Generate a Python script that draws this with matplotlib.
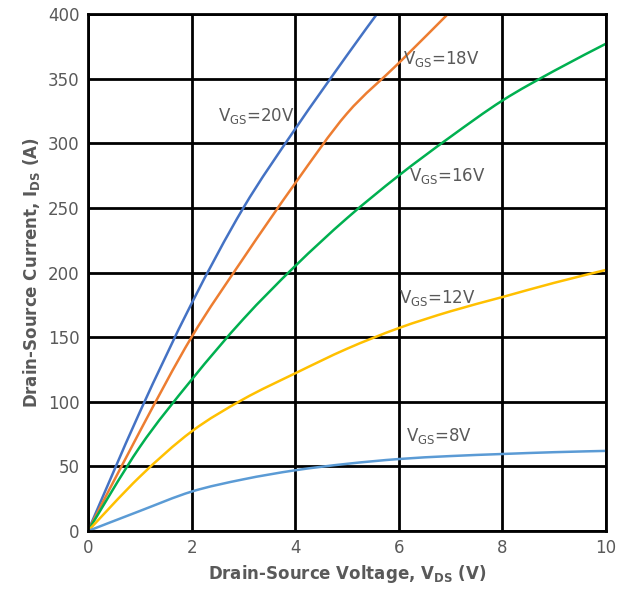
import numpy as np
import matplotlib.pyplot as plt
from matplotlib.path import Path
from matplotlib.patches import PathPatch

plt.rcParams['font.family'] = ['DejaVu Sans']
plt.rcParams['mathtext.default'] = 'regular'

# curves (V_DS in V, I_DS in A)
vds_8 = [0, 1, 2, 3, 4, 5, 6, 7, 8, 9, 10]
ids_8 = [0, 15.5, 30.5, 40, 47, 52, 55.7, 58, 59.6, 61, 62]

vds_12 = [0, 1, 2, 3, 4, 5, 6, 7, 8, 9, 10]
ids_12 = [0, 42, 77, 102, 122, 141, 157, 170, 181, 192, 202]

vds_16 = [0, 1, 2, 3, 4, 5, 6, 7, 8, 9, 10]
ids_16 = [0, 65, 117, 164, 205, 242, 275, 305, 333, 356, 377]

vds_18 = [0, 1, 2, 3, 4, 5, 6, 6.95]
ids_18 = [0, 77, 150, 211, 269, 323, 362, 400]

vds_20 = [0, 1, 2, 3, 4, 5, 5.58]
ids_20 = [0, 92, 176, 250, 311, 368, 400]

series = [
    (vds_20, ids_20, '#4472C4', '20V', (3.26, 321)),
    (vds_18, ids_18, '#ED7D31', '18V', (6.82, 365)),
    (vds_16, ids_16, '#00B050', '16V', (6.93, 274.5)),
    (vds_12, ids_12, '#FFC000', '12V', (6.75, 180)),
    (vds_8, ids_8, '#5B9BD5', '8V', (6.77, 73.5)),
]

grey = '#595959'


# smoothed line like a spreadsheet "smooth line" (cubic bezier through the points)
def smooth_path(x, y):
    p = np.column_stack([x, y]).astype(float)
    n = len(p)
    verts = [p[0]]
    codes = [Path.MOVETO]
    for i in range(n - 1):
        prev = p[max(i - 1, 0)]
        nxt = p[min(i + 2, n - 1)]
        c1 = p[i] + (p[i + 1] - prev) / 6
        c2 = p[i + 1] - (nxt - p[i]) / 6
        verts += [c1, c2, p[i + 1]]
        codes += [Path.CURVE4] * 3
    return Path(verts, codes)


fig = plt.figure(figsize=(6.17, 5.96), dpi=100)
ax = fig.add_axes([0.1426, 0.109, 0.8394, 0.8675])

for x, y, c, lab, pos in series:
    ax.add_patch(PathPatch(smooth_path(x, y), fill=False, edgecolor=c,
                           lw=1.8, zorder=2, clip_on=True))
    ax.text(pos[0], pos[1], '$V_{GS}$=' + lab, color=grey, fontsize=12,
            ha='center', va='center')

ax.set_xlim(0, 10)
ax.set_ylim(0, 400)
ax.set_xticks(np.arange(0, 11, 2))
ax.set_yticks(np.arange(0, 401, 50))
ax.grid(True, color='black', lw=2)
for s in ax.spines.values():
    s.set_color('black')
    s.set_linewidth(2)
ax.tick_params(length=0, labelsize=12, labelcolor=grey, pad=6)

ax.set_xlabel('Drain-Source Voltage, $V_{DS}$ (V)', fontsize=12,
              fontweight='bold', color=grey)
ax.set_ylabel('Drain-Source Current, $I_{DS}$ (A)', fontsize=12,
              fontweight='bold', color=grey)

fig.savefig('out.png', dpi=100)
